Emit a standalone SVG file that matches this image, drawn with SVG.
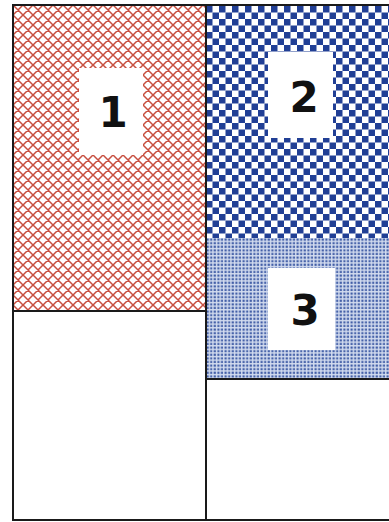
<svg xmlns="http://www.w3.org/2000/svg" width="389" height="522" viewBox="0 0 389 522">
  <defs>
    <pattern id="hatch" width="10" height="10" patternUnits="userSpaceOnUse" x="13" y="5">
      <rect width="10" height="10" fill="#ffffff"/>
      <path d="M0,0 L10,10 M10,0 L0,10 M-1,9 L1,11 M9,-1 L11,1 M-1,1 L1,-1 M9,11 L11,9" stroke="#c84f40" stroke-width="1.5" fill="none"/>
    </pattern>
    <pattern id="check" width="13" height="13" patternUnits="userSpaceOnUse" x="206" y="6">
      <rect width="13" height="13" fill="#ffffff"/>
      <rect x="0" y="0" width="6.5" height="6.5" fill="#213f95"/>
      <rect x="6.5" y="6.5" width="6.5" height="6.5" fill="#213f95"/>
    </pattern>
    <pattern id="dots" width="3.6" height="3.6" patternUnits="userSpaceOnUse" x="206" y="238">
      <rect width="3.6" height="3.6" fill="#d3dcef"/>
      <rect x="0.5" y="0.5" width="2.1" height="2.1" fill="#3b58a3"/>
    </pattern>
  </defs>
  <style>
    .frame { fill: none; stroke: #1a1a1a; stroke-width: 2; }
    .label-box { fill: #ffffff; }
    .num { font-family: "DejaVu Sans", "Liberation Sans", sans-serif; font-weight: bold; font-size: 42px; fill: #111111; text-anchor: middle; }
  </style>
  <rect width="389" height="522" fill="#ffffff"/>

  <g id="block1">
    <rect x="13" y="5" width="193" height="306" fill="url(#hatch)"/>
    <rect class="label-box" x="79" y="68" width="64" height="87"/>
    <text class="num" x="113" y="127">1</text>
    <rect class="frame" x="13" y="5" width="193" height="306"/>
  </g>

  <g id="block-left-bottom">
    <rect class="frame" x="13" y="311" width="193" height="209" fill="#ffffff"/>
  </g>

  <g id="block2">
    <rect x="206" y="5" width="184" height="233" fill="url(#check)"/>
    <rect class="label-box" x="268" y="52" width="65" height="86"/>
    <text class="num" x="304" y="112">2</text>
  </g>

  <g id="block3">
    <rect x="206" y="238" width="184" height="141" fill="url(#dots)"/>
    <rect class="label-box" x="268" y="268" width="67" height="82"/>
    <text class="num" x="305" y="325">3</text>
  </g>

  <g id="block-right-bottom">
    <rect x="206" y="379" width="184" height="141" fill="#ffffff"/>
  </g>

  <g id="frame-lines">
    <path class="frame" d="M206,5 L390,5 M206,379 L390,379 M206,5 L206,520 M206,520 L390,520"/>
  </g>
</svg>
